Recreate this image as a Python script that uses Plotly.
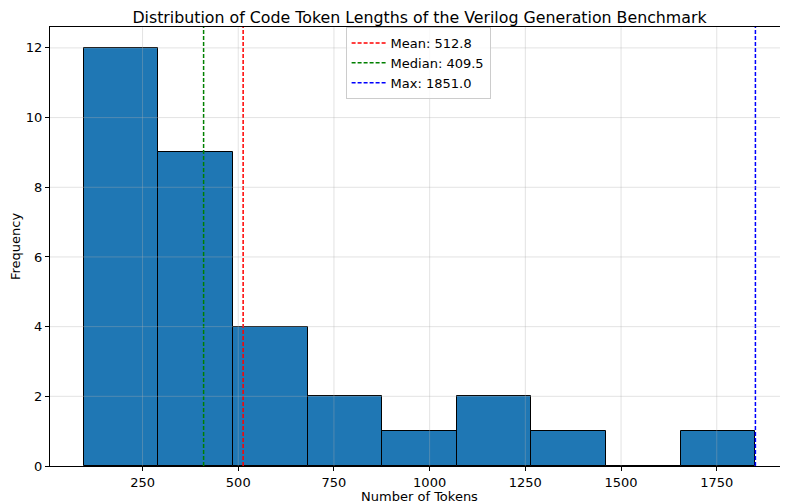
import plotly.graph_objects as go

# Histogram data
counts = [12, 9, 4, 2, 1, 2, 1, 0, 1]
min_tokens = 96.0
max_tokens = 1851.0
mean_tokens = 512.8
median_tokens = 409.5
x_ticks = [250, 500, 750, 1000, 1250, 1500, 1750]
y_ticks = [0, 2, 4, 6, 8, 10, 12]

n_bins = len(counts)
bin_w = (max_tokens - min_tokens) / n_bins
centers = [min_tokens + bin_w * (i + 0.5) for i in range(n_bins)]

span = max_tokens - min_tokens
x_range = [min_tokens - 0.05 * span, max_tokens + 0.05 * span]
y_top = max(counts) * 1.05

fig = go.Figure()
fig.add_trace(go.Bar(
    x=centers, y=counts, width=[bin_w] * n_bins,
    marker=dict(color="#1f77b4", line=dict(color="black", width=1)),
    showlegend=False, hoverinfo="x+y",
))

lines = [
    (mean_tokens, "#ff0000", f"Mean: {mean_tokens:.1f}"),
    (median_tokens, "#008000", f"Median: {median_tokens:.1f}"),
    (max_tokens, "#0000ff", f"Max: {max_tokens:.1f}"),
]
for xv, col, name in lines:
    fig.add_trace(go.Scatter(
        x=[xv, xv], y=[0, y_top], mode="lines", name=name,
        line=dict(color=col, width=1.5, dash="4px,2px"),
    ))

# grid lines drawn above the bars (as in the reference)
grid_col = "rgba(176,176,176,0.35)"
shapes = []
for t in x_ticks:
    shapes.append(dict(type="line", xref="x", yref="paper", x0=t, x1=t, y0=0, y1=1,
                       line=dict(color=grid_col, width=1), layer="above"))
for t in y_ticks[1:]:
    shapes.append(dict(type="line", xref="paper", yref="y", x0=0, x1=1, y0=t, y1=t,
                       line=dict(color=grid_col, width=1), layer="above"))

font_family = "DejaVu Sans, sans-serif"
fig.update_layout(
    width=782, height=496,
    margin=dict(l=42, r=1, t=19, b=38),
    paper_bgcolor="white", plot_bgcolor="white",
    font=dict(family=font_family, size=13, color="black"),
    title=dict(text="Distribution of Code Token Lengths of the Verilog Generation Benchmark",
               xref="paper", x=0.5, xanchor="center",
               yref="container", y=0.992, yanchor="top", pad=dict(t=0, b=0),
               font=dict(size=15.8, family=font_family)),
    bargap=0,
    shapes=shapes,
    legend=dict(x=0.40, y=1.0, xanchor="left", yanchor="top",
                bgcolor="rgba(255,255,255,0.8)", bordercolor="#cccccc", borderwidth=1,
                font=dict(size=13, family=font_family), tracegroupgap=0,
                itemwidth=34),
)
fig.update_xaxes(
    range=x_range, tickvals=x_ticks, ticktext=[str(t) for t in x_ticks],
    showline=True, linecolor="black", linewidth=1, mirror=True,
    ticks="outside", ticklen=4, tickcolor="black",
    showgrid=False, zeroline=False,
    title=dict(text="Number of Tokens", standoff=3, font=dict(size=13)),
)
fig.update_yaxes(
    range=[0, y_top], tickvals=y_ticks,
    showline=True, linecolor="black", linewidth=1, mirror=True,
    ticks="outside", ticklen=4, tickcolor="black",
    showgrid=False, zeroline=False,
    title=dict(text="Frequency", standoff=8, font=dict(size=13)),
)

fig.write_html("out.html")
